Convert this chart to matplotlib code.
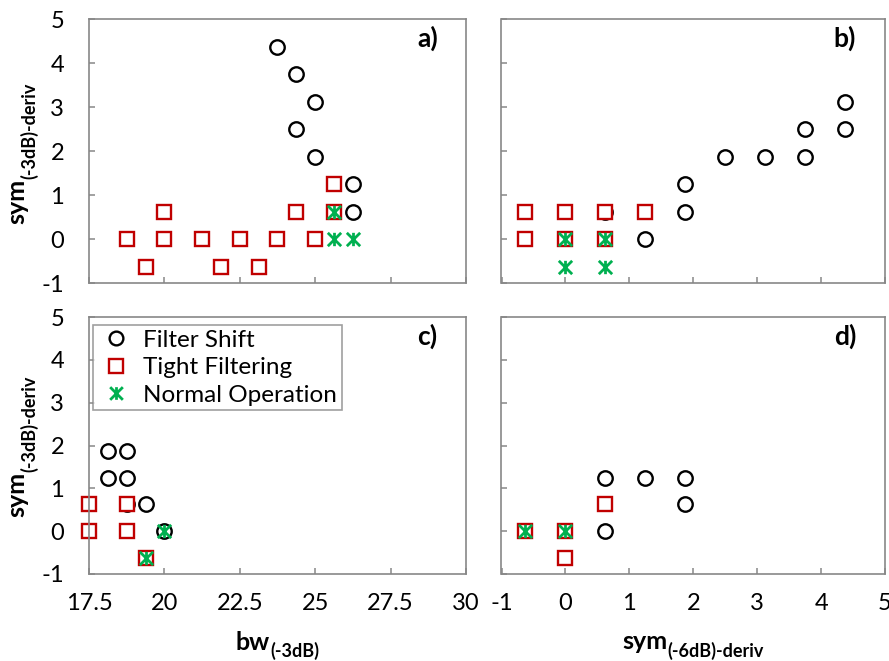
import matplotlib
matplotlib.use("Agg")
import matplotlib.pyplot as plt
from matplotlib.path import Path
from matplotlib.lines import Line2D

plt.rcParams['font.family'] = ['Lato', 'DejaVu Sans']

# ---- data -------------------------------------------------------------
# a) sym(-3dB)-deriv vs bw(-3dB)
shift_a_x = [23.75, 24.375, 25.0, 24.375, 25.0, 26.25, 26.25]
shift_a_y = [4.375, 3.75, 3.125, 2.5, 1.875, 1.25, 0.625]
tight_a_x = [25.625, 25.625, 20.0, 24.375, 18.75, 20.0, 21.25, 22.5, 23.75, 25.0,
             19.375, 21.875, 23.125]
tight_a_y = [1.25, 0.625, 0.625, 0.625, 0, 0, 0, 0, 0, 0, -0.625, -0.625, -0.625]
normal_a_x = [25.625, 25.625, 26.25]
normal_a_y = [0.625, 0, 0]

# b) sym(-3dB)-deriv vs sym(-6dB)-deriv
shift_b_x = [4.375, 4.375, 3.75, 3.75, 3.125, 2.5, 1.875, 1.875, 1.25, 0.625]
shift_b_y = [3.125, 2.5, 2.5, 1.875, 1.875, 1.875, 1.25, 0.625, 0, 0.625]
tight_b_x = [-0.625, 0, 0.625, 1.25, -0.625, 0, 0.625]
tight_b_y = [0.625, 0.625, 0.625, 0.625, 0, 0, 0]
normal_b_x = [0, 0.625, 0, 0.625]
normal_b_y = [0, 0, -0.625, -0.625]

# c) sym(-3dB)-deriv vs bw(-3dB)
shift_c_x = [18.125, 18.75, 18.125, 18.75, 19.375, 20.0, 18.75]
shift_c_y = [1.875, 1.875, 1.25, 1.25, 0.625, 0, 0.625]
tight_c_x = [17.5, 18.75, 17.5, 18.75, 19.375]
tight_c_y = [0.625, 0.625, 0, 0, -0.625]
normal_c_x = [20.0, 19.375]
normal_c_y = [0, -0.625]

# d) sym(-3dB)-deriv vs sym(-6dB)-deriv
shift_d_x = [0.625, 1.25, 1.875, 1.875, 0.625]
shift_d_y = [1.25, 1.25, 1.25, 0.625, 0]
tight_d_x = [0.625, -0.625, 0, 0]
tight_d_y = [0.625, 0, 0, -0.625]
normal_d_x = [-0.625, 0]
normal_d_y = [0, 0]

bw_ticks = [17.5, 20, 22.5, 25, 27.5, 30]
bw_labels = ["17.5", "20", "22.5", "25", "27.5", "30"]
sym_ticks = [-1, 0, 1, 2, 3, 4, 5]
sym_labels = ["-1", "0", "1", "2", "3", "4", "5"]

series_names = ["Filter Shift", "Tight Filtering", "Normal Operation"]

# ---- styling ------------------------------------------------------------
BLACK = "#000000"
RED = "#C00000"
GREEN = "#00B050"
GREY = "#878787"
TICK_FS = 17

# Excel-style asterisk: an "x" crossed by a vertical bar
star = Path([(-1, -1), (1, 1), (-1, 1), (1, -1), (0, -1), (0, 1)],
            [Path.MOVETO, Path.LINETO, Path.MOVETO, Path.LINETO, Path.MOVETO, Path.LINETO])

circle_kw = dict(marker='o', ms=10.4, mfc='white', mec=BLACK, mew=1.7, ls='none', clip_on=False)
square_kw = dict(marker='s', ms=10.0, mfc='white', mec=RED, mew=1.7, ls='none', clip_on=False)
star_kw = dict(marker=star, ms=9.6, mfc='none', mec=GREEN, mew=2.0, ls='none', clip_on=False)

W, H = 889, 661
fig = plt.figure(figsize=(W / 100, H / 100), dpi=100)


def px_axes(x0, y0, x1, y1):
    return fig.add_axes([x0 / W, 1 - y1 / H, (x1 - x0) / W, (y1 - y0) / H])


ax_a = px_axes(89, 19, 466, 283)
ax_b = px_axes(501.5, 19, 885, 283)
ax_c = px_axes(89, 317, 466, 574)
ax_d = px_axes(501.5, 317, 885, 574)

panels = [
    (ax_a, 'a)', (shift_a_x, shift_a_y), (tight_a_x, tight_a_y), (normal_a_x, normal_a_y), 'bw'),
    (ax_b, 'b)', (shift_b_x, shift_b_y), (tight_b_x, tight_b_y), (normal_b_x, normal_b_y), 'sym'),
    (ax_c, 'c)', (shift_c_x, shift_c_y), (tight_c_x, tight_c_y), (normal_c_x, normal_c_y), 'bw'),
    (ax_d, 'd)', (shift_d_x, shift_d_y), (tight_d_x, tight_d_y), (normal_d_x, normal_d_y), 'sym'),
]

for ax, tag, shift, tight, normal, kind in panels:
    ax.plot(*shift, **circle_kw)
    ax.plot(*tight, **square_kw)
    ax.plot(*normal, **star_kw)

    if kind == 'bw':
        ax.set_xlim(17.5, 30)
        ax.set_xticks(bw_ticks)
        ax.set_xticklabels(bw_labels)
    else:
        ax.set_xlim(-1, 5)
        ax.set_xticks(sym_ticks)
        ax.set_xticklabels(sym_labels)
    ax.set_ylim(-1, 5)
    ax.set_yticks(sym_ticks)
    ax.set_yticklabels(sym_labels)

    for s in ax.spines.values():
        s.set_color(GREY)
        s.set_linewidth(1.2)
    ax.tick_params(direction='in', length=4.5, width=1.1, color=GREY,
                   labelsize=TICK_FS, labelcolor='black')
    ax.tick_params(axis='y', pad=18)
    ax.tick_params(axis='x', pad=14)
    ax.tick_params(top=False, right=False)

    ax.text(0.925, 0.925, tag, transform=ax.transAxes, ha='right', va='center',
            fontsize=19, fontweight='bold')

ax_a.tick_params(labelbottom=False)
ax_b.tick_params(labelbottom=False, labelleft=False)
ax_d.tick_params(labelleft=False)

# legend in panel c
handles = [Line2D([], [], **{**circle_kw, 'clip_on': True}),
           Line2D([], [], **{**square_kw, 'clip_on': True}),
           Line2D([], [], **{**star_kw, 'clip_on': True})]
leg = ax_c.legend(handles, series_names, loc='upper left', bbox_to_anchor=(0.011, 0.969),
                  borderaxespad=0, frameon=True, fancybox=False, fontsize=17.5,
                  handlelength=1.5, handletextpad=0.35, labelspacing=0.26,
                  borderpad=0.2, markerscale=0.95)
leg.get_frame().set_edgecolor(GREY)
leg.get_frame().set_linewidth(1.2)

# ---- axis titles with subscripts ------------------------------------------
MAIN_FS = 18
SUB_FS = 13
renderer = fig.canvas.get_renderer()


def text_width(s, size):
    t = fig.text(0, 0, s, fontsize=size, fontweight='bold')
    w = t.get_window_extent(renderer).width
    t.remove()
    return w


def xtitle(cx, base_y, main, sub, drop):
    wm = text_width(main, MAIN_FS)
    ws = text_width(sub, SUB_FS)
    x0 = cx - (wm + ws) / 2
    fig.text(x0 / W, 1 - base_y / H, main, fontsize=MAIN_FS, fontweight='bold',
             ha='left', va='baseline')
    fig.text((x0 + wm) / W, 1 - (base_y + drop) / H, sub, fontsize=SUB_FS,
             fontweight='bold', ha='left', va='baseline')


def ytitle(base_x, cy, main, sub, drop):
    wm = text_width(main, MAIN_FS)
    ws = text_width(sub, SUB_FS)
    y0 = cy + (wm + ws) / 2
    fig.text(base_x / W, 1 - y0 / H, main, fontsize=MAIN_FS, fontweight='bold',
             ha='left', va='baseline', rotation=90, rotation_mode='anchor')
    fig.text((base_x + drop) / W, 1 - (y0 - wm) / H, sub, fontsize=SUB_FS,
             fontweight='bold', ha='left', va='baseline', rotation=90,
             rotation_mode='anchor')


xtitle(277.5, 650, 'bw', '(-3dB)', 7)
xtitle(693, 649, 'sym', '(-6dB)-deriv', 8)
ytitle(24, 153, 'sym', '(-3dB)-deriv', 11)
ytitle(24, 446, 'sym', '(-3dB)-deriv', 11)

fig.savefig('out.png', dpi=100)
